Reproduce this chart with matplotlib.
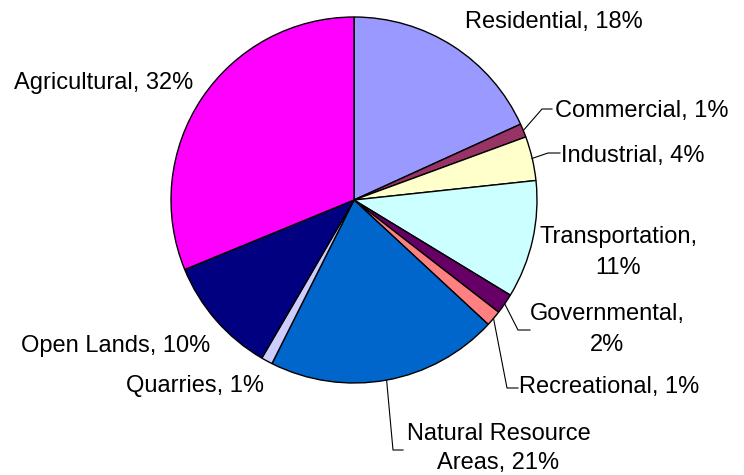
import matplotlib
matplotlib.use("Agg")
import matplotlib.pyplot as plt
import numpy as np

categories = ["Residential", "Commercial", "Industrial", "Transportation",
              "Governmental", "Recreational", "Natural Resource Areas",
              "Quarries", "Open Lands", "Agricultural"]
values = [18.2, 1.2, 3.9, 10.4, 1.8, 1.4, 20.5, 1.0, 10.4, 31.2]
pct_labels = ["18%", "1%", "4%", "11%", "2%", "1%", "21%", "1%", "10%", "32%"]
colors = ["#9999FF", "#993366", "#FFFFCC", "#CCFFFF", "#660066",
          "#FF8080", "#0066CC", "#CCCCFF", "#000080", "#FF00FF"]

# label text with line breaks as in the original
label_texts = [
    "Residential, 18%", "Commercial, 1%", "Industrial, 4%",
    "Transportation,\n11%", "Governmental,\n2%", "Recreational, 1%",
    "Natural Resource\nAreas, 21%", "Quarries, 1%", "Open Lands, 10%",
    "Agricultural, 32%",
]

# layout (pixel coordinates): text centre x, first baseline y, line gap
text_pos = [(553.5, 28.3, 31), (641.5, 116.7, 31), (633, 161.7, 31),
            (618, 243.3, 31), (607, 320, 31), (609, 393.3, 31),
            (498.5, 440, 29.5), (195, 391.7, 31), (116, 351.7, 31),
            (103.5, 89.3, 31)]
# leader knee and end points (None = no leader)
leaders = [None, ((542, 109), (552, 109)), ((548, 153), (560, 153)), None,
           ((518, 330), (530, 330)), ((507, 388), (518, 388)),
           ((393, 450), (403, 450)), None, None, None]

W, H = 744, 475
fig = plt.figure(figsize=(W / 100, H / 100), dpi=100)
ax = fig.add_axes([0, 0, 1, 1])

cx, cy, R = 354, 200, 183
wedges, _ = ax.pie(values, colors=colors, startangle=-90, counterclock=True,
                   center=(cx, cy), radius=R,
                   wedgeprops=dict(edgecolor="black", linewidth=1.0))
ax.set_xlim(0, W)
ax.set_ylim(H, 0)
ax.set_aspect("equal")
ax.axis("off")

FS = 17
for i, w in enumerate(wedges):
    txt = label_texts[i]
    x, y, gap = text_pos[i]
    for j, line in enumerate(txt.split("\n")):
        ax.text(x, y + j * gap, line, ha="center", va="baseline",
                fontsize=FS, family="Liberation Sans", color="black")
    if leaders[i] is not None:
        mid = np.deg2rad((w.theta1 + w.theta2) / 2)
        sx = w.center[0] + w.r * np.cos(mid)
        sy = w.center[1] + w.r * np.sin(mid)
        (kx, ky), (ex, ey) = leaders[i]
        ax.plot([sx, kx, ex], [sy, ky, ey], color="black", linewidth=0.8)

fig.savefig("out.png", dpi=100)
